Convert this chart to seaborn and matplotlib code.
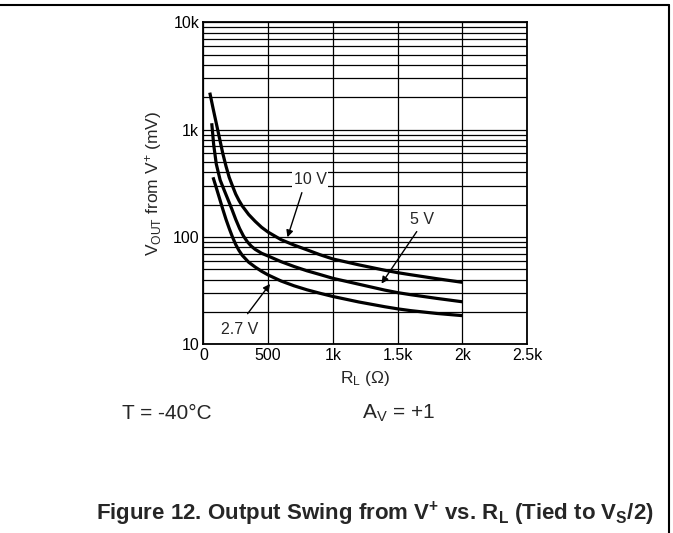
import pandas as pd
import seaborn as sns
import matplotlib.pyplot as plt
import matplotlib.ticker as mticker
from matplotlib.lines import Line2D

# data (R_L in ohm, V_OUT swing in mV)
rl_10v = [50, 75, 100, 125, 150, 175, 200, 225, 250, 275, 300, 350, 400, 450, 500,
          600, 700, 800, 900, 1000, 1200, 1400, 1500, 1600, 1800, 2000]
vout_10v = [2213, 1585, 1148, 832, 603, 457, 359, 299, 251, 219, 195, 162, 140, 123, 111,
            94.4, 84.1, 75.9, 68.4, 62.4, 55, 49, 46.5, 44.5, 40.9, 37.8]

rl_5v = [65, 80, 100, 130, 160, 190, 220, 250, 280, 310, 340, 370, 400, 450, 500,
         600, 700, 800, 900, 1000, 1200, 1400, 1500, 1600, 1800, 2000]
vout_5v = [1148, 724, 479, 339, 275, 224, 182, 146, 120, 102, 90.2, 82.2, 76.7, 70.5, 66.5,
           58.9, 53.1, 48.4, 44.7, 41.2, 36.3, 32.0, 30.3, 29.0, 26.8, 24.9]

rl_27v = [75, 100, 125, 150, 175, 200, 225, 250, 275, 300, 350, 400, 450, 500,
          600, 700, 800, 900, 1000, 1200, 1400, 1500, 1600, 1800, 2000]
vout_27v = [360, 288, 229, 182, 146, 120, 100, 85.1, 75, 67.6, 58.2, 52.5, 47.9, 44.3,
            38.9, 35.1, 32.2, 29.9, 27.9, 24.8, 22.4, 21.4, 20.6, 19.4, 18.5]

x_ticks = [0, 500, 1000, 1500, 2000, 2500]
x_labels = ["0", "500", "1k", "1.5k", "2k", "2.5k"]
y_ticks = [10, 100, 1000, 10000]
y_labels = ["10", "100", "1k", "10k"]

df = pd.concat([
    pd.DataFrame({"rl": rl_10v, "vout": vout_10v, "supply": "10 V"}),
    pd.DataFrame({"rl": rl_5v, "vout": vout_5v, "supply": "5 V"}),
    pd.DataFrame({"rl": rl_27v, "vout": vout_27v, "supply": "2.7 V"}),
])

sns.set_style("white")
plt.rcParams['font.family'] = ['Liberation Sans', 'DejaVu Sans']
plt.rcParams['mathtext.fontset'] = 'custom'
plt.rcParams['mathtext.rm'] = 'Liberation Sans'
plt.rcParams['mathtext.bf'] = 'Liberation Sans:bold'
plt.rcParams['mathtext.default'] = 'regular'

fig = plt.figure(figsize=(6.73, 5.33), dpi=100)
ax = fig.add_axes([0.3021, 0.354, 0.4814, 0.6041])

sns.lineplot(data=df, x="rl", y="vout", hue="supply", units="supply", estimator=None,
             palette=["black"] * 3, linewidth=2.3, legend=False, ax=ax, sort=False,
             solid_joinstyle="round", solid_capstyle="butt")

ax.set_yscale("log")
ax.set_xlim(0, 2500)
ax.set_ylim(10, 10000)
ax.set_xticks(x_ticks)
ax.set_xticklabels(x_labels)
ax.set_yticks(y_ticks)
ax.set_yticklabels(y_labels)
ax.yaxis.set_minor_locator(mticker.LogLocator(base=10, subs=range(2, 10)))
ax.yaxis.set_minor_formatter(mticker.NullFormatter())
ax.tick_params(which="both", length=0, labelsize=11.5, colors="black", pad=3)

ax.grid(True, which="major", color="black", linewidth=0.9)
ax.grid(True, which="minor", axis="y", color="black", linewidth=0.9)
ax.set_axisbelow(True)
for s in ax.spines.values():
    s.set_color("black")
    s.set_linewidth(1.3)

ax.set_xlabel(r"R$_{L}$ ($\Omega$)", fontsize=12.5, labelpad=4)
ax.set_ylabel(r"V$_{OUT}$ from V$^{+}$ (mV)", fontsize=12.5, labelpad=6)

# curve labels with arrows
box = dict(facecolor="white", edgecolor="none", pad=1)
arrow = dict(arrowstyle="-|>", color="black", lw=1, mutation_scale=10)
ax.annotate("", xy=(643, 94), xytext=(767, 274), arrowprops=arrow)
ax.text(823, 340, "10 V", ha="center", va="center", fontsize=11.5, bbox=box)
ax.annotate("", xy=(1363, 35), xytext=(1659, 118), arrowprops=arrow)
ax.text(1685, 146, "5 V", ha="center", va="center", fontsize=11.5, bbox=box)
ax.annotate("", xy=(528, 38.3), xytext=(329, 18.4), arrowprops=arrow)
ax.text(278, 13.8, "2.7 V", ha="center", va="center", fontsize=11.5, bbox=box)

# conditions below the plot
fig.text(121.7 / 673, 1 - 419 / 533, "T = -40°C", fontsize=15, ha="left", va="baseline")
fig.text(361.7 / 673, 1 - 419 / 533, r"A$_{V}$ = +1", fontsize=15, ha="left", va="baseline")

fig.text(96 / 673, 1 - 520 / 533, r"Figure 12. Output Swing from V$^{+}$ vs. R$_{L}$ (Tied to V$_{S}$/2)",
         fontsize=16, fontweight="bold", ha="left", va="baseline")

# page frame lines
fig.add_artist(Line2D([0, 669 / 673], [1 - 5 / 533, 1 - 5 / 533], color="black", lw=1.5,
                      transform=fig.transFigure))
fig.add_artist(Line2D([669 / 673, 669 / 673], [1 - 5 / 533, 0], color="black", lw=1.5,
                      transform=fig.transFigure))

fig.savefig("out.png", dpi=100)
